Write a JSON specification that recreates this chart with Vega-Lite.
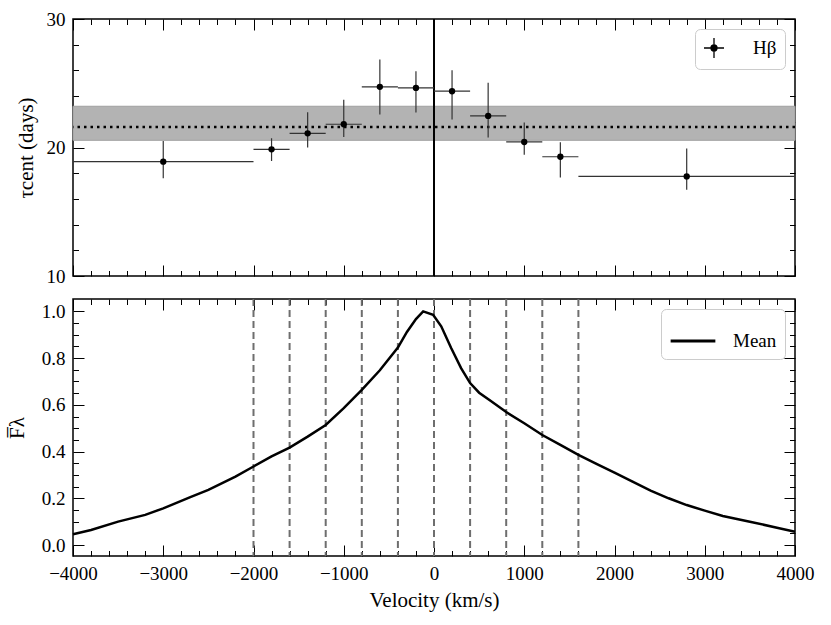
{
  "$schema": "https://vega.github.io/schema/vega-lite/v6.json",
  "padding": {"left": 5, "top": 9, "right": 5, "bottom": 5},
  "background": "white",
  "datasets": {
    "lags": [
      {"v": -3000, "v_lo": -4000, "v_hi": -2000, "tau": 18.9, "tau_lo": 17.6, "tau_hi": 20.5},
      {"v": -1800, "v_lo": -2000, "v_hi": -1600, "tau": 19.86, "tau_lo": 18.95, "tau_hi": 20.72},
      {"v": -1400, "v_lo": -1600, "v_hi": -1200, "tau": 21.1, "tau_lo": 20.0, "tau_hi": 22.74},
      {"v": -1000, "v_lo": -1200, "v_hi": -800, "tau": 21.81, "tau_lo": 20.82, "tau_hi": 23.71},
      {"v": -600, "v_lo": -800, "v_hi": -400, "tau": 24.72, "tau_lo": 22.56, "tau_hi": 26.85},
      {"v": -200, "v_lo": -400, "v_hi": 0, "tau": 24.64, "tau_lo": 22.72, "tau_hi": 25.94},
      {"v": 200, "v_lo": 0, "v_hi": 400, "tau": 24.38, "tau_lo": 22.17, "tau_hi": 26.02},
      {"v": 600, "v_lo": 400, "v_hi": 800, "tau": 22.46, "tau_lo": 20.77, "tau_hi": 25.03},
      {"v": 1000, "v_lo": 800, "v_hi": 1200, "tau": 20.43, "tau_lo": 19.44, "tau_hi": 21.94},
      {"v": 1400, "v_lo": 1200, "v_hi": 1600, "tau": 19.28, "tau_lo": 17.67, "tau_hi": 20.4},
      {"v": 2800, "v_lo": 1600, "v_hi": 4000, "tau": 17.75, "tau_lo": 16.71, "tau_hi": 19.93}
    ],
    "summary": [{"mean": 21.6, "lo": 20.56, "hi": 23.21, "v0": 0}],
    "edges": [
      {"v": -2000}, {"v": -1600}, {"v": -1200}, {"v": -800}, {"v": -400},
      {"v": 0}, {"v": 400}, {"v": 800}, {"v": 1200}, {"v": 1600}
    ],
    "profile": [
      {"v": -4000, "f": 0.046}, {"v": -3800, "f": 0.064}, {"v": -3500, "f": 0.1},
      {"v": -3200, "f": 0.129}, {"v": -3000, "f": 0.157}, {"v": -2700, "f": 0.205},
      {"v": -2500, "f": 0.236}, {"v": -2200, "f": 0.293}, {"v": -2000, "f": 0.336},
      {"v": -1800, "f": 0.379}, {"v": -1600, "f": 0.417}, {"v": -1400, "f": 0.464},
      {"v": -1200, "f": 0.514}, {"v": -1000, "f": 0.586}, {"v": -800, "f": 0.664},
      {"v": -600, "f": 0.748}, {"v": -400, "f": 0.845}, {"v": -300, "f": 0.912},
      {"v": -200, "f": 0.967}, {"v": -120, "f": 1.0}, {"v": -10, "f": 0.985},
      {"v": 80, "f": 0.936}, {"v": 190, "f": 0.843}, {"v": 300, "f": 0.757},
      {"v": 400, "f": 0.693}, {"v": 500, "f": 0.652}, {"v": 630, "f": 0.616},
      {"v": 800, "f": 0.569}, {"v": 1000, "f": 0.521}, {"v": 1200, "f": 0.471},
      {"v": 1400, "f": 0.429}, {"v": 1600, "f": 0.386}, {"v": 1800, "f": 0.347},
      {"v": 2000, "f": 0.31}, {"v": 2200, "f": 0.271}, {"v": 2400, "f": 0.233},
      {"v": 2600, "f": 0.2}, {"v": 2800, "f": 0.171}, {"v": 3000, "f": 0.147},
      {"v": 3200, "f": 0.124}, {"v": 3500, "f": 0.1}, {"v": 3800, "f": 0.074},
      {"v": 4000, "f": 0.057}
    ]
  },
  "config": {
    "font": "Liberation Serif, DejaVu Serif, serif",
    "view": {"stroke": "black", "strokeWidth": 1.5},
    "concat": {"spacing": 10},
    "axis": {
      "domain": false,
      "grid": false,
      "labelFlush": false,
      "tickColor": "black",
      "tickWidth": 1,
      "labelColor": "black",
      "labelFont": "Liberation Serif, DejaVu Serif, serif",
      "labelFontSize": 19,
      "titleColor": "black",
      "titleFont": "Liberation Serif, DejaVu Serif, serif",
      "titleFontSize": 21,
      "titleFontWeight": "normal",
      "zindex": 1
    },
    "legend": {
      "orient": "top-right",
      "offset": 10,
      "fillColor": "white",
      "strokeColor": "#cccccc",
      "cornerRadius": 5,
      "padding": 8,
      "labelFont": "Liberation Serif, DejaVu Serif, serif",
      "labelFontSize": 19,
      "labelColor": "black"
    }
  },
  "resolve": {"scale": {"color": "independent"}, "legend": {"color": "independent"}},
  "vconcat": [
    {
      "width": 722,
      "height": 257,
      "data": {"name": "lags"},
      "resolve": {"axis": {"x": "independent", "y": "independent"}},
      "layer": [
        {
          "data": {"name": "summary"},
          "mark": {"type": "rect", "fill": "#b3b3b3", "stroke": "#a0a0a0", "strokeWidth": 1},
          "encoding": {
            "y": {"field": "lo", "type": "quantitative", "scale": {"domain": [10, 30], "nice": false, "zero": false}, "axis": null},
            "y2": {"field": "hi"}
          }
        },
        {
          "data": {"name": "summary"},
          "mark": {"type": "rule", "color": "black", "strokeWidth": 2.5, "strokeDash": [2.5, 4]},
          "encoding": {
            "y": {"field": "mean", "type": "quantitative", "scale": {"domain": [10, 30], "nice": false, "zero": false}, "axis": null}
          }
        },
        {
          "data": {"name": "summary"},
          "mark": {"type": "rule", "color": "black", "strokeWidth": 2},
          "encoding": {
            "x": {"field": "v0", "type": "quantitative", "scale": {"domain": [-4000, 4000], "nice": false, "zero": false}, "axis": null}
          }
        },
        {
          "mark": {"type": "rule", "color": "#333333", "strokeWidth": 1.2},
          "encoding": {
            "x": {"field": "v_lo", "type": "quantitative", "scale": {"domain": [-4000, 4000], "nice": false, "zero": false}, "axis": null},
            "x2": {"field": "v_hi"},
            "y": {"field": "tau", "type": "quantitative", "scale": {"domain": [10, 30], "nice": false, "zero": false}, "axis": null}
          }
        },
        {
          "mark": {"type": "rule", "color": "#333333", "strokeWidth": 1.2},
          "encoding": {
            "x": {"field": "v", "type": "quantitative", "scale": {"domain": [-4000, 4000], "nice": false, "zero": false}, "axis": null},
            "y": {"field": "tau_lo", "type": "quantitative", "scale": {"domain": [10, 30], "nice": false, "zero": false}, "axis": null},
            "y2": {"field": "tau_hi"}
          }
        },
        {
          "mark": {"type": "point", "filled": true, "size": 40, "opacity": 1},
          "encoding": {
            "x": {"field": "v", "type": "quantitative", "scale": {"domain": [-4000, 4000], "nice": false, "zero": false}, "axis": null},
            "y": {"field": "tau", "type": "quantitative", "scale": {"domain": [10, 30], "nice": false, "zero": false}, "axis": null},
            "color": {
              "datum": "Hβ",
              "scale": {"range": ["black"]},
              "legend": {
                "title": null,
                "symbolType": "M-1,0L1,0M0,-1L0,1M-0.3,0A0.3,0.3,0,1,1,0.3,0A0.3,0.3,0,1,1,-0.3,0Z",
                "symbolSize": 400,
                "symbolFillColor": "black",
                "symbolStrokeColor": "black",
                "symbolStrokeWidth": 1.3,
                "labelOffset": 28
              }
            }
          }
        },
        {
          "mark": {"type": "point", "opacity": 0},
          "encoding": {
            "x": {"field": "v", "type": "quantitative", "scale": {"domain": [-4000, 4000], "nice": false, "zero": false}, "axis": null},
            "y": {"field": "tau", "type": "quantitative", "scale": {"domain": [10, 30], "nice": false, "zero": false},
              "axis": {"orient": "left", "values": [10, 20, 30], "ticks": false, "labelPadding": 8, "title": "τcent (days)", "titlePadding": 10}}
          }
        },
        {
          "mark": {"type": "point", "opacity": 0},
          "encoding": {
            "x": {"field": "v", "type": "quantitative", "scale": {"domain": [-4000, 4000], "nice": false, "zero": false},
              "axis": {"orient": "bottom", "values": [-4000, -3000, -2000, -1000, 0, 1000, 2000, 3000, 4000], "labels": false, "tickSize": -11, "title": null}},
            "y": {"field": "tau", "type": "quantitative", "scale": {"domain": [10, 30], "nice": false, "zero": false},
              "axis": {"orient": "left", "values": [10, 20, 30], "labels": false, "tickSize": -11, "title": null}}
          }
        },
        {
          "mark": {"type": "point", "opacity": 0},
          "encoding": {
            "x": {"field": "v", "type": "quantitative", "scale": {"domain": [-4000, 4000], "nice": false, "zero": false},
              "axis": {"orient": "bottom", "values": [-3800, -3600, -3400, -3200, -2800, -2600, -2400, -2200, -1800, -1600, -1400, -1200, -800, -600, -400, -200, 200, 400, 600, 800, 1200, 1400, 1600, 1800, 2200, 2400, 2600, 2800, 3200, 3400, 3600, 3800], "labels": false, "tickSize": -5.5, "title": null}},
            "y": {"field": "tau", "type": "quantitative", "scale": {"domain": [10, 30], "nice": false, "zero": false},
              "axis": {"orient": "left", "values": [12, 14, 16, 18, 22, 24, 26, 28], "labels": false, "tickSize": -5.5, "title": null}}
          }
        },
        {
          "mark": {"type": "point", "opacity": 0},
          "encoding": {
            "x": {"field": "v", "type": "quantitative", "scale": {"domain": [-4000, 4000], "nice": false, "zero": false},
              "axis": {"orient": "top", "values": [-4000, -3000, -2000, -1000, 0, 1000, 2000, 3000, 4000], "labels": false, "tickSize": -11, "title": null}},
            "y": {"field": "tau", "type": "quantitative", "scale": {"domain": [10, 30], "nice": false, "zero": false},
              "axis": {"orient": "right", "values": [10, 20, 30], "labels": false, "tickSize": -11, "title": null}}
          }
        },
        {
          "mark": {"type": "point", "opacity": 0},
          "encoding": {
            "x": {"field": "v", "type": "quantitative", "scale": {"domain": [-4000, 4000], "nice": false, "zero": false},
              "axis": {"orient": "top", "values": [-3800, -3600, -3400, -3200, -2800, -2600, -2400, -2200, -1800, -1600, -1400, -1200, -800, -600, -400, -200, 200, 400, 600, 800, 1200, 1400, 1600, 1800, 2200, 2400, 2600, 2800, 3200, 3400, 3600, 3800], "labels": false, "tickSize": -5.5, "title": null}},
            "y": {"field": "tau", "type": "quantitative", "scale": {"domain": [10, 30], "nice": false, "zero": false},
              "axis": {"orient": "right", "values": [12, 14, 16, 18, 22, 24, 26, 28], "labels": false, "tickSize": -5.5, "title": null}}
          }
        }
      ]
    },
    {
      "width": 722,
      "height": 257,
      "data": {"name": "profile"},
      "resolve": {"axis": {"x": "independent", "y": "independent"}},
      "layer": [
        {
          "data": {"name": "edges"},
          "mark": {"type": "rule", "color": "#6e6e6e", "strokeWidth": 2, "strokeDash": [7, 4]},
          "encoding": {
            "x": {"field": "v", "type": "quantitative", "scale": {"domain": [-4000, 4000], "nice": false, "zero": false}, "axis": null}
          }
        },
        {
          "mark": {"type": "line", "strokeWidth": 2.5},
          "encoding": {
            "x": {"field": "v", "type": "quantitative", "scale": {"domain": [-4000, 4000], "nice": false, "zero": false}, "axis": null},
            "y": {"field": "f", "type": "quantitative", "scale": {"domain": [-0.047, 1.053], "nice": false, "zero": false}, "axis": null},
            "color": {
              "datum": "Mean",
              "scale": {"range": ["black"]},
              "legend": {
                "title": null,
                "symbolType": "stroke",
                "symbolSize": 2000,
                "symbolStrokeColor": "black",
                "symbolStrokeWidth": 3,
                "labelOffset": 16
              }
            }
          }
        },
        {
          "mark": {"type": "point", "opacity": 0},
          "encoding": {
            "x": {"field": "v", "type": "quantitative", "scale": {"domain": [-4000, 4000], "nice": false, "zero": false},
              "axis": {"orient": "bottom", "values": [-4000, -3000, -2000, -1000, 0, 1000, 2000, 3000, 4000], "format": "d", "ticks": false, "labelPadding": 8, "title": "Velocity (km/s)", "titlePadding": 6}},
            "y": {"field": "f", "type": "quantitative", "scale": {"domain": [-0.047, 1.053], "nice": false, "zero": false},
              "axis": {"orient": "left", "values": [0, 0.2, 0.4, 0.6, 0.8, 1.0], "format": ".1f", "ticks": false, "labelPadding": 8, "title": "F̅λ", "titlePadding": 14}}
          }
        },
        {
          "mark": {"type": "point", "opacity": 0},
          "encoding": {
            "x": {"field": "v", "type": "quantitative", "scale": {"domain": [-4000, 4000], "nice": false, "zero": false},
              "axis": {"orient": "bottom", "values": [-4000, -3000, -2000, -1000, 0, 1000, 2000, 3000, 4000], "labels": false, "tickSize": -11, "title": null}},
            "y": {"field": "f", "type": "quantitative", "scale": {"domain": [-0.047, 1.053], "nice": false, "zero": false},
              "axis": {"orient": "left", "values": [0, 0.2, 0.4, 0.6, 0.8, 1.0], "labels": false, "tickSize": -11, "title": null}}
          }
        },
        {
          "mark": {"type": "point", "opacity": 0},
          "encoding": {
            "x": {"field": "v", "type": "quantitative", "scale": {"domain": [-4000, 4000], "nice": false, "zero": false},
              "axis": {"orient": "bottom", "values": [-3800, -3600, -3400, -3200, -2800, -2600, -2400, -2200, -1800, -1600, -1400, -1200, -800, -600, -400, -200, 200, 400, 600, 800, 1200, 1400, 1600, 1800, 2200, 2400, 2600, 2800, 3200, 3400, 3600, 3800], "labels": false, "tickSize": -5.5, "title": null}},
            "y": {"field": "f", "type": "quantitative", "scale": {"domain": [-0.047, 1.053], "nice": false, "zero": false},
              "axis": {"orient": "left", "values": [0.05, 0.1, 0.15, 0.25, 0.3, 0.35, 0.45, 0.5, 0.55, 0.65, 0.7, 0.75, 0.85, 0.9, 0.95], "labels": false, "tickSize": -5.5, "title": null}}
          }
        },
        {
          "mark": {"type": "point", "opacity": 0},
          "encoding": {
            "x": {"field": "v", "type": "quantitative", "scale": {"domain": [-4000, 4000], "nice": false, "zero": false},
              "axis": {"orient": "top", "values": [-4000, -3000, -2000, -1000, 0, 1000, 2000, 3000, 4000], "labels": false, "tickSize": -11, "title": null}},
            "y": {"field": "f", "type": "quantitative", "scale": {"domain": [-0.047, 1.053], "nice": false, "zero": false},
              "axis": {"orient": "right", "values": [0, 0.2, 0.4, 0.6, 0.8, 1.0], "labels": false, "tickSize": -11, "title": null}}
          }
        },
        {
          "mark": {"type": "point", "opacity": 0},
          "encoding": {
            "x": {"field": "v", "type": "quantitative", "scale": {"domain": [-4000, 4000], "nice": false, "zero": false},
              "axis": {"orient": "top", "values": [-3800, -3600, -3400, -3200, -2800, -2600, -2400, -2200, -1800, -1600, -1400, -1200, -800, -600, -400, -200, 200, 400, 600, 800, 1200, 1400, 1600, 1800, 2200, 2400, 2600, 2800, 3200, 3400, 3600, 3800], "labels": false, "tickSize": -5.5, "title": null}},
            "y": {"field": "f", "type": "quantitative", "scale": {"domain": [-0.047, 1.053], "nice": false, "zero": false},
              "axis": {"orient": "right", "values": [0.05, 0.1, 0.15, 0.25, 0.3, 0.35, 0.45, 0.5, 0.55, 0.65, 0.7, 0.75, 0.85, 0.9, 0.95], "labels": false, "tickSize": -5.5, "title": null}}
          }
        }
      ]
    }
  ]
}
